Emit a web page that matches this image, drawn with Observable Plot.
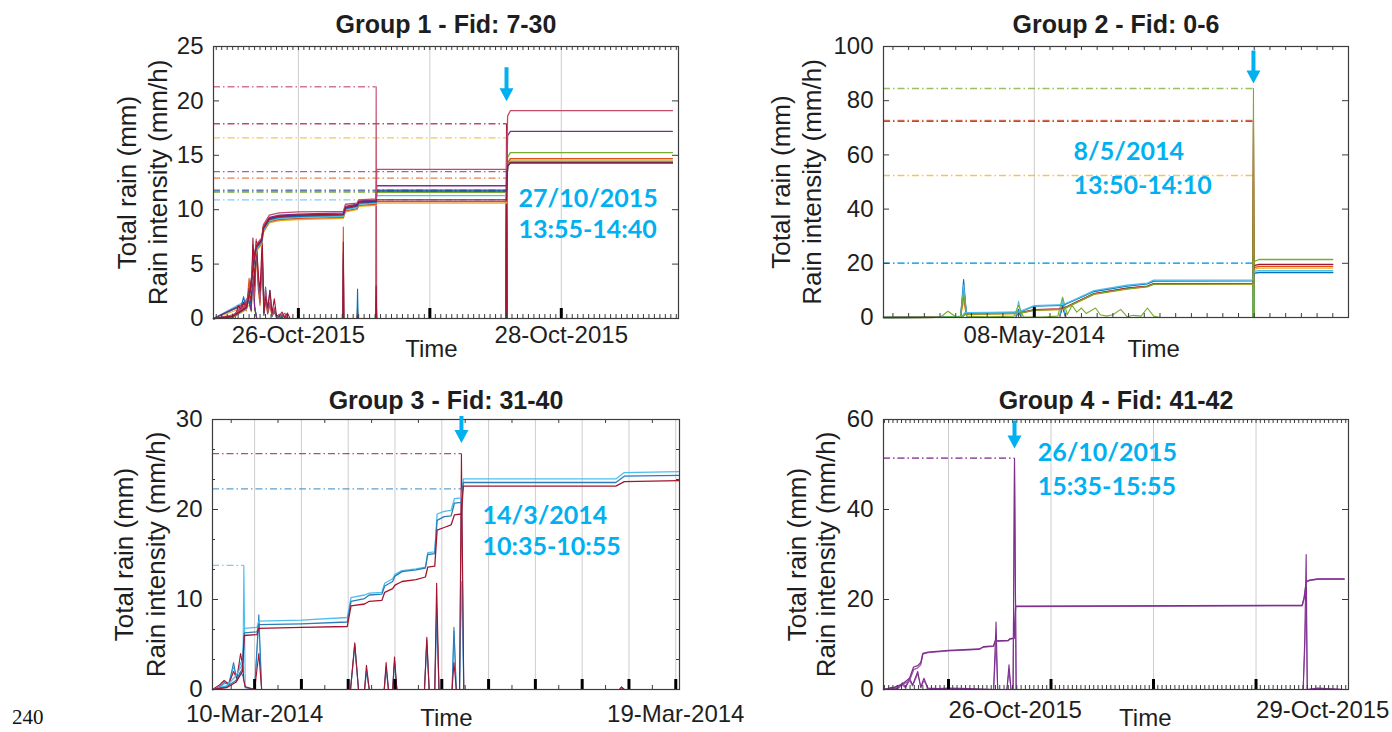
<!DOCTYPE html>
<html><head><meta charset="utf-8">
<script src="https://cdn.jsdelivr.net/npm/d3@7"></script>
<script src="https://cdn.jsdelivr.net/npm/@observablehq/plot@0.6"></script>
<style>
body{margin:0;background:#fff;}
#wrap{position:relative;width:1392px;height:732px;overflow:hidden;background:#fff;}
#pnum{position:absolute;left:12px;top:707px;font-family:"Liberation Serif",serif;font-size:21px;line-height:1;color:#111;}
</style></head><body><div id="wrap"><div id="pnum">240</div></div>
<script>
const FONT = "'Liberation Sans', Arial, Helvetica, sans-serif";
const ANNO = "#00B0F0";

// ================= Group 1 (hours from 26-Oct-2015 00:00) =================
const g1Title = "Group 1 - Fid: 7-30";
const g1XTicks = [0, 48];
const g1XLabels = ["26-Oct-2015", "28-Oct-2015"];
const g1Days = [0, 24, 48];
const g1YTicks = [0, 5, 10, 15, 20, 25];
const g1T = [-15.5, -12.0, -9.5, -8.8, -8.0, -7.7, -6.7, -6.4, -5.3, -3.5, 0, 8.2, 8.6, 10.7, 11.0, 14.2, 14.3, 38.0, 38.2, 38.7, 68.3];
const g1CumGreen    = [0,0.2,1.0,2.5,5.6,6.5,7.1,8.2,9.1,9.3,9.4,9.5,10.1,10.3,10.6,10.7,11.6,11.6,14.8,15.25,15.25];
const g1CumYellow   = [0,0.1,0.8,2.3,5.3,6.2,6.8,7.9,8.8,9.0,9.1,9.2,9.8,10.0,10.3,10.4,10.6,10.6,14.2,14.55,14.55];
const g1CumOrange   = [0,0.1,0.9,2.4,5.4,6.3,6.9,8.0,8.9,9.1,9.2,9.3,9.9,10.1,10.4,10.5,10.75,10.75,14.3,14.7,14.7];
const g1CumLightBlue= [0,0.2,0.9,2.4,5.5,6.4,7.0,8.1,9.0,9.2,9.3,9.4,10.0,10.2,10.5,10.6,11.3,11.3,14.1,14.45,14.45];
const g1CumBlue     = [0,0.2,1.0,2.5,5.6,6.5,7.1,8.2,9.1,9.3,9.4,9.5,10.1,10.3,10.6,10.7,11.8,11.8,14.0,14.35,14.35];
const g1CumNavy     = [0,0.2,1.0,2.6,5.7,6.6,7.2,8.3,9.2,9.4,9.5,9.6,10.2,10.4,10.7,10.8,11.7,11.7,14.0,14.3,14.3];
const g1CumPurple   = [0,0.2,1.1,2.7,5.9,6.7,7.3,8.4,9.3,9.5,9.6,9.7,10.3,10.5,10.8,10.9,12.2,12.2,16.8,17.2,17.2];
const g1CumPink     = [0,0.3,1.2,2.8,6.0,6.8,7.4,8.6,9.5,9.7,9.8,9.85,10.5,10.6,10.9,11.0,13.7,13.7,18.6,19.1,19.1];
const g1CumDarkRed  = [0,0.2,1.0,2.6,5.8,6.6,7.2,8.3,9.2,9.4,9.5,9.6,10.2,10.4,10.7,10.8,10.9,10.9,14.0,14.3,14.3];
const g1IT = [-15.5,-12.5,-12.0,-11.5,-11.0,-10.5,-10.0,-9.5,-9.0,-8.6,-8.3,-8.0,-7.7,-7.3,-7.0,-6.6,-6.3,-6.0,-5.6,-5.2,-4.8,-4.4,-4.0,-3.5,-3.0,-2.5,-2.0,-1.5,0,8.1,8.2,8.3,10.7,10.8,10.9,14.1,14.2,14.3,37.9,38.0,38.1,68.3];
const g1IntDarkRed = [0,0,0.4,0.1,1.2,0.8,1.5,1.0,2.8,1.5,7.4,3.0,7.1,4.0,2.5,7.3,0.5,2.0,1.0,2.6,0.5,1.8,0.3,0.2,0.6,0.1,0.5,0,0,0,7.0,0,0,0.3,0,0,3.0,0,0,17.9,0,0];
const g1IntPink    = [0,0,0.2,0.5,0.8,1.2,1.0,1.8,2.0,2.5,6.8,2.0,7.3,3.5,1.5,6.5,1.0,2.8,0.6,1.5,0.3,1.0,0.2,0.4,0.2,0.5,0.1,0,0,0,6.0,0,0,0.2,0,0,21.3,0,0,16.5,0,0];
const g1IntBlue    = [0,0,0.1,0.4,0.6,1.0,2.0,0.8,2.0,1.2,6.5,2.5,6.8,3.0,1.8,6.0,0.3,2.9,0.5,2.6,0.2,0.8,0.1,0.2,0.1,0.2,0,0,0,0,5.5,0,0,2.7,0,0,2.0,0,0,11.7,0,0];
const g1IntOrange  = [0,0,0.1,0.3,0.5,0.7,1.1,0.7,3.7,1.0,5.5,2.0,6.0,2.5,1.2,5.5,0.3,1.5,0.4,1.2,0.2,0.6,0.1,0.1,0.1,0.2,0,0,0,0,8.4,0,0,1.0,0,0,2.0,0,0,12.9,0,0];
const g1ITs = [-15.5,-9.0,-8.6,-8.3,-8.0,-7.6,37.9,38.0,38.1,68.3];
const g1IntGreen     = [0,1.5,0.8,5.5,1.0,0,0,11.6,0,0];
const g1IntYellow    = [0,1.2,0.6,5.0,0.8,0,0,16.6,0,0];
const g1IntLightBlue = [0,1.8,0.9,6.0,1.2,0,0,10.9,0,0];
const g1IntNavy      = [0,1.5,0.7,5.8,1.0,0,0,11.8,0,0];
const g1IntPurple    = [0,1.6,0.8,6.2,1.1,0,0,13.5,0,0];
// order: green, yellow, orange, lightblue, blue, navy, purple, pink, darkred
const g1Colors  = ["#77AC30","#EDB120","#D95319","#4DBEEE","#0072BD","#35408F","#7E2F8E","#C24A6A","#A2142F"];
const g1MaxVal  = [11.6, 16.6, 12.9, 10.9, 11.7, 11.8, 13.5, 21.3, 17.9];
const g1MaxTime = [38.0, 38.0, 38.0, 38.0, 38.0, 38.0, 38.0, 14.2, 38.0];
const g1ArrowX = [38.0], g1ArrowY = [23.1];
const g1AnnoText = ["27/10/2015", "13:55-14:40"], g1AnnoX = [40.2, 40.2], g1AnnoY = [11.0, 8.1];

// ================= Group 2 (hours from 08-May-2014 00:00) =================
const g2Title = "Group 2 - Fid: 0-6";
const g2XTicks = [0];
const g2XLabels = ["08-May-2014"];
const g2Days = [0];
const g2YTicks = [0, 20, 40, 60, 80, 100];
const g2T = [-9.6, -6.0, -4.6, -4.4, -1.0, 0.0, 1.8, 2.5, 3.8, 5.9, 7.2, 7.6, 13.92, 13.98, 14.3, 19.0];
const g2CumYellow   = [0,0.1,0.3,1.2,1.4,2.6,2.9,4.9,8.5,10.5,11.3,12.2,12.3,17.8,18.2,18.2];
const g2CumOrange   = [0,0.1,0.3,1.3,1.5,2.8,3.1,5.1,8.7,10.7,11.5,12.4,12.5,18.4,18.9,18.9];
const g2CumDarkRed  = [0,0.1,0.3,1.4,1.6,2.9,3.2,5.2,8.8,10.8,11.6,12.5,12.6,19.1,19.6,19.6];
const g2CumBlue     = [0,0.1,0.4,1.7,1.9,4.2,4.5,6.2,9.6,11.6,12.4,13.4,13.5,16.3,16.6,16.6];
const g2CumLightBlue= [0,0.1,0.4,1.8,2.0,4.4,4.7,6.4,9.9,11.9,12.7,13.8,13.9,17.0,17.3,17.3];
const g2CumGreen    = [0,0.1,0.3,1.3,1.5,2.7,3.0,5.0,8.6,10.6,11.4,12.3,12.4,20.6,21.4,21.4];
const g2IT = [-9.6,-6.0,-5.5,-5.0,-4.7,-4.5,-4.3,-3.0,-1.3,-1.0,-0.7,0.5,1.5,1.8,2.1,2.4,2.7,3.0,3.3,3.6,3.9,4.2,4.6,5.0,5.5,5.9,6.3,6.8,7.2,7.6,8.0,9,13.9,13.95,14.0,19.0];
const g2IntGreen = [0,0,2.3,0.3,0.5,9,0.5,0.3,0.5,4.5,0.3,0.2,0.5,7.5,1.0,4.5,2.0,3.5,1.5,2.5,3.5,1.0,0.5,1.0,3.0,0.3,0.8,0.5,3.5,0.5,0,0,0,84.5,0,0];
const g2ITs = [-9.6,-4.7,-4.5,-4.3,-1.2,-1.0,-0.8,1.6,1.8,2.0,13.9,13.95,14.0,19.0];
const g2IntYellow    = [0,0,6,0,0,2,0,0,4,0,0,52.4,0,0];
const g2IntOrange    = [0,0,8,0,0,2,0,0,5,0,0,72.7,0,0];
const g2IntDarkRed   = [0,0,11,0,0,2,0,0,4,0,0,72.4,0,0];
const g2IntBlue      = [0,0,14,0,0,3,0,0,5,0,0,20.0,0,0];
const g2IntLightBlue = [0,0,12,0,0,6,0,0,7,0,0,20.2,0,0];
// order: yellow, orange, darkred, blue, lightblue, green
const g2Colors  = ["#EDB120","#D95319","#A2142F","#0072BD","#4DBEEE","#77AC30"];
const g2MaxVal  = [52.4, 72.7, 72.4, 20.0, 20.2, 84.5];
const g2MaxTime = [13.95, 13.95, 13.95, 13.95, 13.95, 13.95];
const g2ArrowX = [13.95], g2ArrowY = [98.5];
const g2AnnoText = ["8/5/2014", "13:50-14:10"], g2AnnoX = [2.5, 2.5], g2AnnoY = [61.0, 48.7];

// ================= Group 3 (days from 10-Mar-2014 00:00) =================
const g3Title = "Group 3 - Fid: 31-40";
const g3XTicks = [0, 9];
const g3XLabels = ["10-Mar-2014", "19-Mar-2014"];
const g3Days = [0, 1, 2, 3, 4, 5, 6, 7, 8, 9];
const g3YTicks = [0, 10, 20, 30];
const g3T = [-0.9,-0.6,-0.4,-0.26,-0.22,0.05,0.09,1.0,1.98,2.06,2.35,2.45,2.72,2.78,2.95,3.0,3.15,3.45,3.65,3.7,3.85,3.9,4.05,4.2,4.27,4.42,4.46,7.72,7.9,9.08];
const g3CumLightBlue = [0,0.4,1.5,2.8,6.8,6.9,7.6,7.7,8.0,10.2,10.5,10.7,10.8,11.8,12.3,12.8,13.2,13.4,13.6,15.2,15.3,19.5,19.8,19.9,21.2,21.3,23.4,23.4,24.1,24.2];
const g3CumBlue      = [0,0.3,1.0,2.3,6.3,6.4,7.2,7.3,7.5,9.8,10.1,10.5,10.6,11.5,12.0,12.6,13.1,13.3,13.5,15.0,15.1,18.8,19.2,19.3,20.7,20.8,23.0,23.0,23.7,23.8];
const g3CumDarkRed   = [0,0.2,0.8,2.0,6.0,6.1,6.8,6.9,7.0,9.3,9.5,9.8,9.9,10.8,11.2,11.6,12.0,12.2,12.5,13.6,13.7,17.7,18.0,18.3,19.4,19.5,22.6,22.6,23.1,23.2];
const g3IT = [-0.9,-0.75,-0.65,-0.55,-0.45,-0.38,-0.3,-0.25,-0.23,-0.2,0.0,0.09,0.15,2.05,2.14,2.22,2.35,2.39,2.45,2.77,2.81,2.86,2.95,2.99,3.04,3.63,3.68,3.73,3.85,3.89,3.94,4.22,4.26,4.31,4.38,4.42,4.47,7.8,7.84,7.9,9.08];
const g3IntLightBlue = [0,0.2,0.6,0.8,2.5,1.5,3.0,2.0,13.8,0.3,0,7.5,0,0,4.8,0,0,2.2,0,0,2.5,0,0,3.0,0,0,5.0,0,0,8.0,0,0,6.5,0,0,12,0,0,0.2,0,0];
const g3IntBlue      = [0,0.3,0.8,0.5,3.0,1.0,2.0,1.5,1.0,0.2,0,8.3,0,0,5.0,0,0,2.0,0,0,2.4,0,0,3.2,0,0,5.5,0,0,9.0,0,0,6.9,0,0,22.3,0,0,0.2,0,0];
const g3IntDarkRed   = [0,0.5,1.0,0.6,2.0,1.2,4.0,2.5,1.0,0.3,0,4.0,0,0,5.2,0,0,2.7,0,0,3.0,0,0,3.6,0,0,5.8,0,0,11.8,0,0,3.0,0,0,26.2,0,0,0.3,0,0];
// order: lightblue, blue, darkred
const g3Colors  = ["#4DBEEE","#2A7DB8","#A2142F"];
const g3MaxVal  = [13.8, 22.3, 26.2];
const g3MaxTime = [-0.23, 4.42, 4.42];
const g3ArrowX = [4.42], g3ArrowY = [30.4];
const g3AnnoText = ["14/3/2014", "10:35-10:55"], g3AnnoX = [4.87, 4.87], g3AnnoY = [19.3, 15.8];

// ================= Group 4 (days from 26-Oct-2015 00:00) =================
const g4Title = "Group 4 - Fid: 41-42";
const g4XTicks = [0, 3];
const g4XLabels = ["26-Oct-2015", "29-Oct-2015"];
const g4Days = [0, 1, 2, 3];
const g4YTicks = [0, 20, 40, 60];
const g4T = [-0.634,-0.55,-0.45,-0.38,-0.34,-0.30,-0.27,-0.25,-0.2,0.0,0.3,0.34,0.44,0.455,0.58,0.6,0.64,0.655,3.45,3.47,3.49,3.52,3.6,3.86];
const g4CumA = [0,0.3,1.2,2.5,5.0,5.3,6.0,8.0,8.3,8.7,9.0,9.5,9.7,10.8,10.9,11.3,11.4,18.5,18.7,20.5,24.0,24.3,24.6,24.6];
const g4CumB = [0,0.2,1.0,2.0,4.4,4.8,5.5,7.9,8.2,8.6,8.9,9.4,9.6,10.7,10.8,11.2,11.3,18.4,18.6,20.3,23.9,24.2,24.5,24.5];
const g4IT = [-0.634,-0.55,-0.5,-0.45,-0.42,-0.38,-0.35,-0.3,-0.27,-0.24,-0.2,-0.1,0.0,0.2,0.44,0.464,0.48,0.57,0.59,0.61,0.63,0.644,0.66,3.46,3.475,3.489,3.5,3.6,3.86];
const g4IntA = [0,0.5,0.2,1.5,0.5,2.5,1.0,4.0,0.5,2.5,0.3,0.2,0.3,0.2,0,15,0,0,5.5,0,0,51.4,0,0,11,30,0,0.3,0];
const g4IntB = [0,0.3,0.1,1.0,0.4,2.0,0.8,3.5,0.4,2.0,0.2,0.1,0.2,0.1,0,10,0,0,4,0,0,51.4,0,0,9,20,0,0.2,0];
const g4Colors  = ["#9B5BAE","#7E2F8E"];
const g4MaxVal  = [51.4, 51.4];
const g4MaxTime = [0.644, 0.644];
const g4ArrowX = [0.644], g4ArrowY = [59.8];
const g4AnnoText = ["26/10/2015", "15:35-15:55"], g4AnnoX = [0.87, 0.87], g4AnnoY = [52.5, 45.0];

// ---------------- helpers ----------------
const pts = (t, v) => t.map((x, i) => ({x, y: v[i]}));
const arrowShape = {
  draw(ctx, l) {
    const w = 2, hw = 7, hl = 13;
    ctx.moveTo(-w, 0); ctx.lineTo(-w, -l + hl); ctx.lineTo(-hw, -l + hl);
    ctx.lineTo(0, -l); ctx.lineTo(hw, -l + hl); ctx.lineTo(w, -l + hl);
    ctx.lineTo(w, 0); ctx.closePath();
  }
};

function render(c) {
  const fw = c.width - c.mL - c.mR, fh = c.height - c.mT - c.mB;
  const ink = "#3c3c3c";
  const marks = [];
  marks.push(Plot.ruleX(c.days, {stroke: "#cdcdcd", strokeWidth: 1}));
  for (const s of c.series) {
    marks.push(Plot.ruleY([{y: s.max, x1: c.start, x2: s.maxT}], {y: "y", x1: "x1", x2: "x2", stroke: s.color, strokeOpacity: 0.75, strokeWidth: 1.3, strokeDasharray: "7,3,1.5,3"}));
  }
  for (const s of c.series) marks.push(Plot.line(pts(s.it, s.iv), {x: "x", y: "y", stroke: s.color, strokeWidth: 1.1}));
  for (const s of c.series) marks.push(Plot.line(pts(s.t, s.v), {x: "x", y: "y", stroke: s.color, strokeWidth: 1.3}));
  marks.push(Plot.ruleX(c.minorX, {insetTop: fh - 4, stroke: ink}));
  marks.push(Plot.ruleX(c.minorX, {insetBottom: fh - 4, stroke: ink}));
  marks.push(Plot.ruleY(c.yTicks, {insetRight: fw - 6, stroke: ink}));
  marks.push(Plot.ruleY(c.yTicks, {insetLeft: fw - 6, stroke: ink}));
  if (c.minorY) {
    marks.push(Plot.ruleY(c.minorY, {insetRight: fw - 3, stroke: ink}));
    marks.push(Plot.ruleY(c.minorY, {insetLeft: fw - 3, stroke: ink}));
  }
  marks.push(Plot.ruleX(c.days, {insetTop: fh - 10, stroke: "#000", strokeWidth: 3}));
  marks.push(Plot.frame({stroke: ink, strokeWidth: 1.2}));
  marks.push(Plot.axisY({ticks: c.yTicks, tickSize: 0, tickPadding: 10, label: null}));
  marks.push(Plot.axisX({ticks: c.xTicks, tickSize: 0, tickPadding: c.xPad, label: null,
    tickFormat: d => c.xLabels[c.xTicks.indexOf(d)], textAnchor: c.xAnchor}));
  marks.push(Plot.text(["Time"], {x: c.timeX, frameAnchor: "bottom", lineAnchor: "middle", textAnchor: "middle", dy: c.timeDy, text: d => d, fontSize: 24}));
  marks.push(Plot.text([c.title], {frameAnchor: "top", lineAnchor: "middle", textAnchor: "middle", dy: c.titleDy, text: d => d, fontWeight: "bold", fontSize: 25}));
  marks.push(Plot.text(["Total rain (mm)"], {frameAnchor: "left", textAnchor: "middle", lineAnchor: "middle", rotate: -90, dx: c.yl1, text: d => d, fontSize: 26}));
  marks.push(Plot.text(["Rain intensity (mm/h)"], {frameAnchor: "left", textAnchor: "middle", lineAnchor: "middle", rotate: -90, dx: c.yl2, text: d => d, fontSize: 26}));
  marks.push(Plot.vector(c.arrowX.map((x, i) => ({x, y: c.arrowY[i]})), {x: "x", y: "y", length: c.arrowLen, rotate: 180, anchor: "start", shape: arrowShape, fill: ANNO, stroke: "none"}));
  marks.push(Plot.text(c.annoText.map((t, i) => ({t, x: c.annoX[i], y: c.annoY[i]})), {x: "x", y: "y", text: "t", textAnchor: "start", fill: ANNO, fontFamily: "Lato, 'Open Sans', sans-serif", fontWeight: 700, fontSize: 25}));

  const svg = Plot.plot({
    width: c.width, height: c.height,
    marginLeft: c.mL, marginRight: c.mR, marginTop: c.mT, marginBottom: c.mB,
    x: {domain: c.xDomain}, y: {domain: c.yDomain},
    style: {fontFamily: FONT, fontSize: "24px", color: "#1e1e1e", background: "transparent", overflow: "visible"},
    marks
  });
  svg.style.position = "absolute";
  svg.style.left = c.left + "px";
  svg.style.top = c.top + "px";
  svg.style.maxWidth = "none";
  document.getElementById("wrap").appendChild(svg);
}

const mk = (colors, ts, vs, its, ivs, maxV, maxT) => colors.map((color, i) => ({color, t: ts[i], v: vs[i], it: its[i], iv: ivs[i], max: maxV[i], maxT: maxT[i]}));

render({
  left: 0, top: 0, width: 760, height: 366, mL: 213, mR: 82, mT: 46, mB: 48,
  xDomain: [-15.5, 69.4], yDomain: [0, 25], start: -15.5,
  yTicks: g1YTicks, xTicks: g1XTicks, xLabels: g1XLabels, xAnchor: "middle", xPad: 7,
  days: g1Days, minorX: d3.range(-15, 70), title: g1Title, titleDy: -22,
  timeX: 24.3, timeDy: 31, yl1: -86, yl2: -55,
  series: mk(g1Colors,
    [g1T,g1T,g1T,g1T,g1T,g1T,g1T,g1T,g1T],
    [g1CumGreen,g1CumYellow,g1CumOrange,g1CumLightBlue,g1CumBlue,g1CumNavy,g1CumPurple,g1CumPink,g1CumDarkRed],
    [g1ITs,g1ITs,g1IT,g1ITs,g1IT,g1ITs,g1ITs,g1IT,g1IT],
    [g1IntGreen,g1IntYellow,g1IntOrange,g1IntLightBlue,g1IntBlue,g1IntNavy,g1IntPurple,g1IntPink,g1IntDarkRed],
    g1MaxVal, g1MaxTime),
  arrowX: g1ArrowX, arrowY: g1ArrowY, arrowLen: 34,
  annoText: g1AnnoText, annoX: g1AnnoX, annoY: g1AnnoY
});

render({
  left: 760, top: 0, width: 632, height: 366, mL: 123, mR: 44, mT: 46, mB: 49,
  xDomain: [-9.6, 20.0], yDomain: [0, 100], start: -9.6,
  yTicks: g2YTicks, xTicks: g2XTicks, xLabels: g2XLabels, xAnchor: "middle", xPad: 8,
  days: g2Days, minorX: d3.range(-9, 20), title: g2Title, titleDy: -22,
  timeX: 7.6, timeDy: 32, yl1: -102, yl2: -71,
  series: mk(g2Colors,
    [g2T,g2T,g2T,g2T,g2T,g2T],
    [g2CumYellow,g2CumOrange,g2CumDarkRed,g2CumBlue,g2CumLightBlue,g2CumGreen],
    [g2ITs,g2ITs,g2ITs,g2ITs,g2ITs,g2IT],
    [g2IntYellow,g2IntOrange,g2IntDarkRed,g2IntBlue,g2IntLightBlue,g2IntGreen],
    g2MaxVal, g2MaxTime),
  arrowX: g2ArrowX, arrowY: g2ArrowY, arrowLen: 33,
  annoText: g2AnnoText, annoX: g2AnnoX, annoY: g2AnnoY
});

render({
  left: 0, top: 366, width: 760, height: 366, mL: 212, mR: 81, mT: 53, mB: 43,
  xDomain: [-0.9, 9.08], yDomain: [0, 30], start: -0.9,
  yTicks: g3YTicks, xTicks: g3XTicks, xLabels: g3XLabels, xAnchor: "middle", xPad: 15,
  days: g3Days, minorX: d3.range(-0.5, 9.08, 1), minorY: d3.range(0, 30.01, 10/3), title: g3Title, titleDy: -19,
  timeX: 4.1, timeDy: 29, yl1: -88, yl2: -56,
  series: mk(g3Colors,
    [g3T,g3T,g3T],
    [g3CumLightBlue,g3CumBlue,g3CumDarkRed],
    [g3IT,g3IT,g3IT],
    [g3IntLightBlue,g3IntBlue,g3IntDarkRed],
    g3MaxVal, g3MaxTime),
  arrowX: g3ArrowX, arrowY: g3ArrowY, arrowLen: 27,
  annoText: g3AnnoText, annoX: g3AnnoX, annoY: g3AnnoY
});

render({
  left: 760, top: 366, width: 632, height: 366, mL: 123, mR: 44, mT: 53, mB: 43,
  xDomain: [-0.634, 3.902], yDomain: [0, 60], start: -0.634,
  yTicks: g4YTicks, xTicks: g4XTicks, xLabels: g4XLabels, xAnchor: "start", xPad: 11,
  days: g4Days, minorX: d3.range(-15, 94).map(h => h / 24), title: g4Title, titleDy: -19,
  timeX: 1.92, timeDy: 29, yl1: -86, yl2: -57,
  series: mk(g4Colors,
    [g4T,g4T],
    [g4CumB,g4CumA],
    [g4IT,g4IT],
    [g4IntB,g4IntA],
    g4MaxVal, g4MaxTime),
  arrowX: g4ArrowX, arrowY: g4ArrowY, arrowLen: 28,
  annoText: g4AnnoText, annoX: g4AnnoX, annoY: g4AnnoY
});
</script></body></html>
